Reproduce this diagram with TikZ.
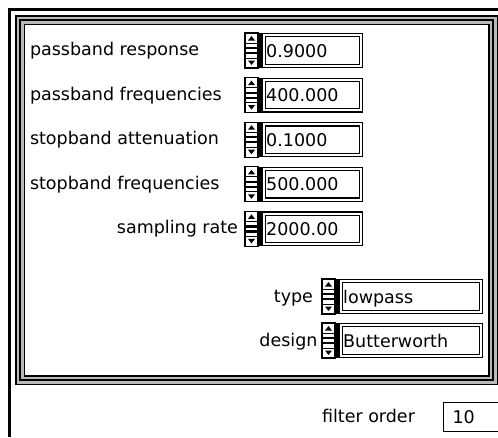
\documentclass[tikz,border=0pt]{standalone}
\usepackage{fontspec}
\setmainfont{DejaVu Sans}
\usetikzlibrary{positioning}

\begin{document}
\begin{tikzpicture}[x=1pt, y=-1pt,
        every node/.style={font=\fontsize{17.5}{20}\selectfont, inner sep=0pt, outer sep=0pt},
        lbl/.style={anchor=base west},
        rlbl/.style={anchor=base east},
        field/.style={draw, line width=1.2pt, double, double distance=2pt, anchor=west,
            minimum height=30.6pt, text height=13pt, text depth=0pt, inner sep=2pt, align=left},
        indicator/.style={draw, line width=1.3pt, anchor=west, minimum height=29pt,
            text height=13pt, text depth=0pt, inner xsep=9pt, text width=50pt, align=left},
        updown/.pic={
            \draw[line width=1.2pt] (-6.5,-17.5) rectangle (6.5,17.5);
            \fill (6.5,-17.5) rectangle (10.5,17.5);
            \fill (-3.5,-10) -- (0,-14.5) -- (3.5,-10) -- cycle;
            \draw[line width=0.8pt] (-6.5,-7.5) -- (6.5,-7.5);
            \draw[line width=2.2pt] (-6.5,-2.5) -- (6.5,-2.5);
            \draw[line width=2.2pt] (-6.5,2.5) -- (6.5,2.5);
            \draw[line width=0.8pt] (-6.5,7.5) -- (6.5,7.5);
            \fill (-3.5,10) -- (0,14.5) -- (3.5,10) -- cycle;
        }
    ]
    \useasboundingbox[fill=white] (0,0) rectangle (498,437);

    % panel edge
    \draw[line width=3pt] (9.5,437) -- (9.5,9.5) -- (498,9.5);

    % cluster frame
    \draw[line width=10pt] (20,20) rectangle (493,380);
    \draw[line width=7pt, gray!55] (20,20) rectangle (493,380);
    \draw[line width=1.5pt] (20,20) rectangle (493,380);

    % numeric controls
    \foreach \i/\lab/\val in {0/passband response/0.9000,
                              1/passband frequencies/400.000,
                              2/stopband attenuation/0.1000,
                              3/stopband frequencies/500.000}{
        \node[lbl] (lab\i) at (30,50.5+44.6*\i+5) {\lab};
    }
    \node[rlbl] (lab4) at (238,50.5+44.6*4+5) {sampling rate};

    \foreach \i/\val in {0/0.9000, 1/400.000, 2/0.1000, 3/500.000, 4/2000.00}{
        \pic (spin\i) at (251.5,50.5+44.6*\i) {updown};
        \node[field, text width=92.6pt] (f\i) at (264.2,50.5+44.6*\i) {\val};
    }

    % ring controls
    \node[rlbl] (labtype) at (313,296.5+5.5) {type};
    \pic (spintype) at (328.5,296.5) {updown};
    \node[field, text width=135.6pt] (ftype) at (341.2,296.5) {lowpass};

    \node[rlbl] (labdesign) at (317.5,340.5+5.5) {design};
    \pic (spindesign) at (328.5,340.5) {updown};
    \node[field, text width=135.6pt] (fdesign) at (341.2,340.5) {Butterworth};

    % indicator
    \node[lbl] (laborder) at (322,422) {filter order};
    \node[indicator] (order) at (443.5,417) {10};
\end{tikzpicture}
\end{document}
